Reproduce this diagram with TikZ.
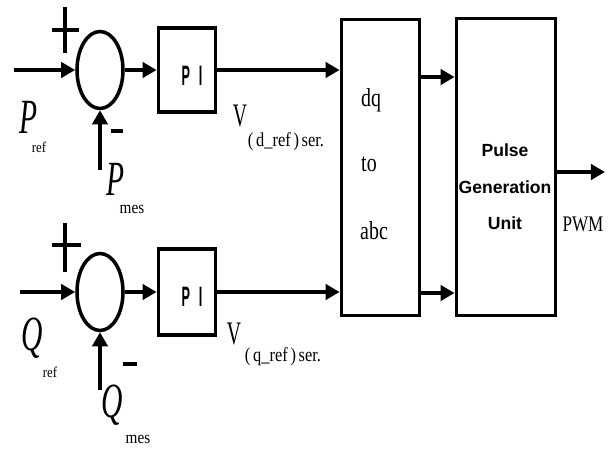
\documentclass[tikz,border=0pt]{standalone}
\usepackage{fontspec}
\setmainfont{Liberation Serif}
\newfontfamily\pgusans{Liberation Sans}
\usetikzlibrary{arrows.meta, shapes.geometric, positioning}

\tikzset{
  sumnode/.style={draw, ellipse, line width=3pt, minimum width=1.38cm, minimum height=2.31cm, inner sep=0pt},
  block/.style={draw, line width=3.2pt, inner sep=0pt},
  sig/.style={line width=3pt, -{Triangle[length=12pt,width=13pt]}},
  signbar/.style={line width=4.2pt},
  minusbar/.style={line width=3.4pt},
  bigvar/.style={font=\fontsize{42}{42}\selectfont\itshape, xscale=0.6, inner sep=0pt},
  vvar/.style={font=\fontsize{28}{28}\selectfont, xscale=0.6, inner sep=0pt},
  subtxt/.style={font=\fontsize{11}{11}\selectfont, yscale=1.15, inner sep=0pt},
  mestxt/.style={font=\fontsize{13}{13}\selectfont, yscale=1.15, inner sep=0pt},
  vsub/.style={font=\fontsize{14}{14}\selectfont, yscale=1.2, inner sep=0pt},
  pitxt/.style={font=\fontsize{24}{24}\selectfont\pgusans\bfseries, xscale=0.45},
  dqtxt/.style={font=\fontsize{17}{17}\selectfont, yscale=1.3, inner sep=0pt, anchor=base west},
}

\begin{document}
\begin{tikzpicture}[x=0.03cm, y=-0.03cm]
\useasboundingbox (0,0) rectangle (612,452);

% summing junctions
\node[sumnode] (Psum) at (100,70) {};
\node[sumnode] (Qsum) at (100,292) {};

% controllers
\node[block, minimum width=1.71cm, minimum height=2.52cm] (PIp) at (187,70) {};
\node[block, minimum width=1.71cm, minimum height=2.58cm] (PIq) at (187,292) {};
\node[pitxt] (PIptxt) at (192,76) {P\hspace{0.7em}I};
\node[pitxt] (PIqtxt) at (192,297) {P\hspace{0.7em}I};

% transformation and pulse blocks
\node[block, minimum width=2.34cm, minimum height=8.88cm] (dq) at (380.5,167.5) {};
\node[block, minimum width=2.97cm, minimum height=8.91cm] (pgu) at (506,167) {};
\node[dqtxt] (dqA) at (361,107) {dq};
\node[dqtxt] (dqB) at (361,172) {to};
\node[dqtxt] (dqC) at (360,240) {abc};
\node[font=\fontsize{15}{31}\selectfont\pgusans\bfseries, align=center, inner sep=0pt] (pgutxt) at (505,187) {Pulse\\Generation\\Unit};

% free ends
\coordinate (Pin) at (14,70);
\coordinate (Qin) at (20,292);
\coordinate (Pmesin) at (100,170);
\coordinate (Qmesin) at (100,390);
\coordinate (PWMout) at (605,172);

% connectors
\draw[sig] (Pin) -- (Psum.west);
\draw[sig] (Qin) -- (Qsum.west);
\draw[sig] (Pmesin) -- (Psum.south);
\draw[sig] (Qmesin) -- (Qsum.south);
\draw[sig] (Psum.east) -- (PIp.west);
\draw[sig] (Qsum.east) -- (PIq.west);
\draw[sig] (PIp.east) -- (PIp.east -| dq.west);
\draw[sig] (PIq.east) -- (PIq.east -| dq.west);
\draw[sig] (dq.east |- 0,77) -- (pgu.west |- 0,77);
\draw[sig] (dq.east |- 0,293) -- (pgu.west |- 0,293);
\draw[sig] (pgu.east |- PWMout) -- (PWMout);

% signs
\draw[signbar] (52,30) -- (79,30) (65,7) -- (65,53);
\draw[minusbar] (111,131) -- (123,131);
\draw[signbar] (52,245) -- (81,245) (65,223) -- (65,272);
\draw[minusbar] (123,364) -- (137,364);

% labels
\node[bigvar] (Pref) at (29,117) {P};
\node[subtxt] (Prefsub) at (39,147) {ref};
\node[bigvar] (Pmes) at (116,179) {P};
\node[mestxt] (Pmessub) at (132,209) {mes};
\node[bigvar] (Qref) at (32,338) {Q};
\node[subtxt] (Qrefsub) at (50,372) {ref};
\node[bigvar] (Qmes) at (112,405) {Q};
\node[mestxt] (Qmessub) at (138,439) {mes};
\node[vvar] (Vd) at (240,116) {V};
\node[vsub] (Vdsub) at (286,142) {(\,d\_ref\,)\,ser.};
\node[vvar] (Vq) at (234,334) {V};
\node[vsub] (Vqsub) at (283,357) {(\,q\_ref\,)\,ser.};
\node[font=\fontsize{14.6}{14.6}\selectfont, yscale=1.3, inner sep=0pt] (pwm) at (583,224) {PWM};
\end{tikzpicture}
\end{document}
